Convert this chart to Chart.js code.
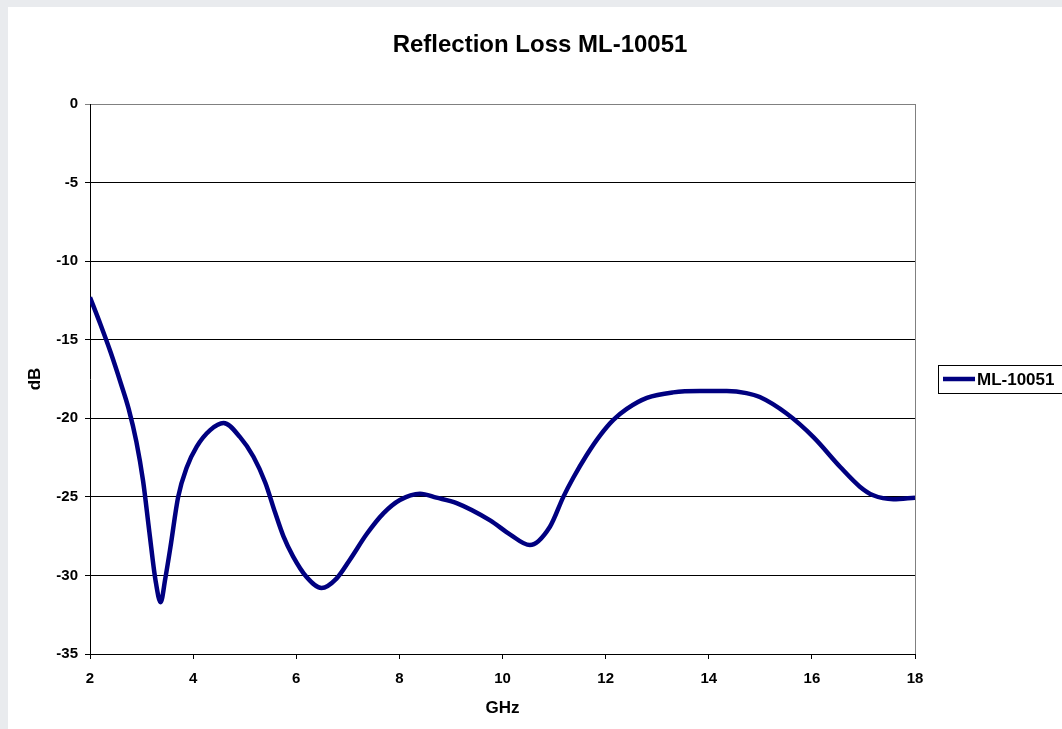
<!DOCTYPE html>
<html lang="en">
<head>
    <meta charset="UTF-8">
    <title>Reflection Loss ML-10051</title>
    <style>
        html, body {
            margin: 0;
            padding: 0;
            background: #e9ebee;
        }

        .chart-container {
            position: relative;
            width: 1062px;
            height: 729px;
        }
    </style>
</head>
<body>

    <div class="chart-container">
        <canvas id="lossChart"></canvas>
    </div>

    <script src="https://cdn.jsdelivr.net/npm/chart.js"></script>
    <script>
        // Values
        const ghz = [2, 2.2, 2.4, 2.6, 2.75, 2.9, 3.03, 3.15, 3.27, 3.37, 3.46, 3.56, 3.71, 3.88, 4.07, 4.33, 4.59, 4.91, 5.17, 5.4, 5.59, 5.75, 5.94, 6.2, 6.49, 6.78, 7.04, 7.37, 7.69, 8.01, 8.4, 8.72, 9.11, 9.76, 10.15, 10.53, 10.92, 11.18, 11.37, 11.63, 11.89, 12.15, 12.41, 12.8, 13.31, 13.83, 14.35, 14.73, 14.99, 15.51, 16.03, 16.55, 16.93, 17.19, 17.58, 18];
        const lossDb = [-12.3, -14.0, -15.8, -17.8, -19.4, -21.5, -24.0, -27.2, -30.3, -31.7, -30.2, -28.2, -25.0, -23.1, -21.8, -20.75, -20.3, -21.2, -22.45, -24.1, -26.0, -27.5, -28.8, -30.1, -30.8, -30.2, -29.0, -27.35, -26.05, -25.2, -24.8, -25.05, -25.4, -26.5, -27.4, -28.07, -26.9, -25.0, -23.8, -22.35, -21.1, -20.1, -19.4, -18.7, -18.35, -18.27, -18.27, -18.4, -18.65, -19.7, -21.2, -23.1, -24.35, -24.9, -25.15, -25.05];
        const seriesName = 'ML-10051';
        const chartTitle = 'Reflection Loss ML-10051';

        const FONT = "'Liberation Sans', Arial, sans-serif";
        const LINE_COLOR = '#000080';

        // Slide frame, chart title, right border and legend drawn by hand
        const decorations = {
            id: 'decorations',
            beforeDraw(chart) {
                const ctx = chart.ctx;
                ctx.save();
                ctx.fillStyle = '#e9ebee';
                ctx.fillRect(0, 0, chart.width, chart.height);
                ctx.fillStyle = '#ffffff';
                ctx.fillRect(8, 7, chart.width - 8, chart.height - 7);
                ctx.restore();
            },
            afterDraw(chart) {
                const ctx = chart.ctx;
                const area = chart.chartArea;
                ctx.save();

                // right edge of plot area
                ctx.strokeStyle = '#808080';
                ctx.lineWidth = 1;
                ctx.beginPath();
                ctx.moveTo(Math.round(area.right) + 0.5, area.top);
                ctx.lineTo(Math.round(area.right) + 0.5, area.bottom);
                ctx.stroke();

                // title
                ctx.fillStyle = '#000';
                ctx.font = 'bold 24px ' + FONT;
                ctx.textAlign = 'center';
                ctx.textBaseline = 'alphabetic';
                ctx.fillText(chartTitle, 540, 51.5);

                // legend box
                ctx.strokeStyle = '#000';
                ctx.strokeRect(938.5, 365.5, 140, 28);
                ctx.strokeStyle = LINE_COLOR;
                ctx.lineWidth = 4.5;
                ctx.beginPath();
                ctx.moveTo(943, 379);
                ctx.lineTo(975, 379);
                ctx.stroke();
                ctx.font = 'bold 17px ' + FONT;
                ctx.textAlign = 'left';
                ctx.fillText(seriesName, 977, 385);

                ctx.restore();
            }
        };

        const lossConfig = {
            type: 'line',
            data: {
                datasets: [{
                    label: seriesName,
                    data: ghz.map((g, i) => ({ x: g, y: lossDb[i] })),
                    borderColor: LINE_COLOR,
                    borderWidth: 4.5,
                    pointRadius: 0,
                    cubicInterpolationMode: 'monotone',
                    fill: false
                }]
            },
            options: {
                responsive: true,
                maintainAspectRatio: false,
                animation: false,
                layout: {
                    padding: { left: 25, right: 147, top: 104, bottom: 10 }
                },
                plugins: {
                    legend: { display: false },
                    title: { display: false },
                    tooltip: { enabled: false }
                },
                scales: {
                    x: {
                        type: 'linear',
                        min: 2,
                        max: 18,
                        afterFit: (scale) => { scale.height = 65; },
                        ticks: {
                            stepSize: 2,
                            color: '#000',
                            padding: 11,
                            maxRotation: 0,
                            font: { family: FONT, size: 15, weight: 'bold' }
                        },
                        grid: {
                            drawOnChartArea: false,
                            tickLength: 5,
                            color: '#000'
                        },
                        border: { color: '#000', width: 1 },
                        title: {
                            display: true,
                            text: 'GHz',
                            color: '#000',
                            padding: 0,
                            font: { family: FONT, size: 17, weight: 'bold' }
                        }
                    },
                    y: {
                        min: -35,
                        max: 0,
                        afterFit: (scale) => { scale.width = 65; },
                        ticks: {
                            stepSize: 5,
                            color: '#000',
                            padding: 7,
                            font: { family: FONT, size: 15, weight: 'bold' }
                        },
                        grid: {
                            tickLength: 5,
                            color: (c) => (c.tick && c.tick.value === 0 ? '#808080' : '#000')
                        },
                        border: { color: '#000', width: 1 },
                        title: {
                            display: true,
                            text: 'dB',
                            color: '#000',
                            padding: 0,
                            font: { family: FONT, size: 17, weight: 'bold' }
                        }
                    }
                }
            },
            plugins: [decorations]
        };

        new Chart(document.getElementById('lossChart'), lossConfig);
    </script>

</body>
</html>
